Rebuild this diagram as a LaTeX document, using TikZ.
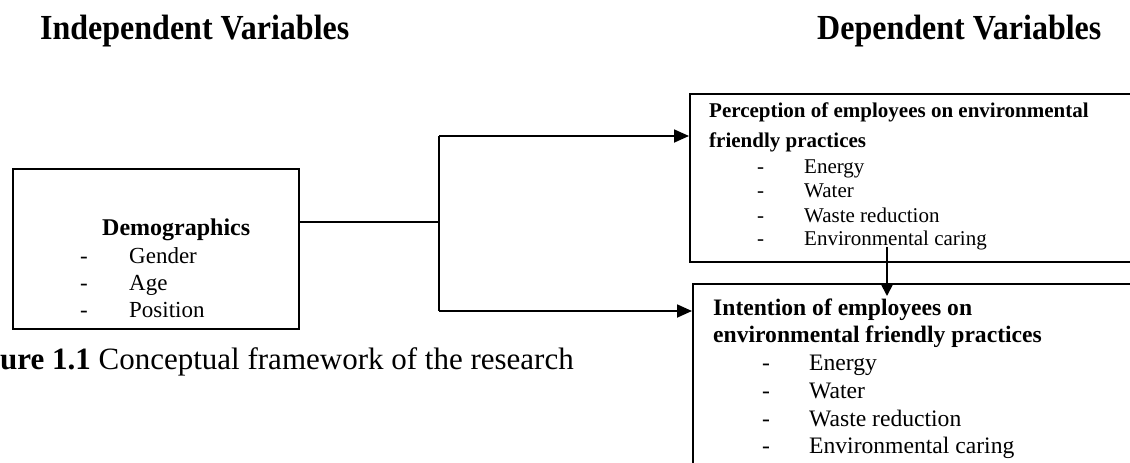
\documentclass[tikz,border=0pt]{standalone}
\usepackage{fontspec}
\setmainfont{Liberation Serif}
\usetikzlibrary{arrows.meta}
\begin{document}
\begin{tikzpicture}[x=1pt,y=-1pt,
  box/.style={draw,line width=1.8pt,inner sep=0pt,anchor=north west},
  txt/.style={inner sep=0pt,anchor=base west},
  conn/.style={line width=1.8pt},
  arr/.style={line width=1.8pt,-{Triangle[length=15pt,width=13pt]}},
  varr/.style={line width=1.8pt,-{Triangle[length=12pt,width=12pt]}},
  head/.style={txt,font=\fontsize{32}{38}\selectfont\bfseries},
  demotitle/.style={txt,font=\fontsize{24}{28}\selectfont\bfseries},
  demoitem/.style={txt,font=\fontsize{23}{27}\selectfont},
  ptitle/.style={txt,font=\fontsize{21}{25}\selectfont\bfseries},
  pitem/.style={txt,font=\fontsize{21}{25}\selectfont},
  ititle/.style={txt,font=\fontsize{23.6}{28}\selectfont\bfseries},
  iitem/.style={txt,font=\fontsize{23.6}{28}\selectfont}]
\useasboundingbox (0,0) rectangle (1130,463);
\clip (0,0) rectangle (1130,463);
% headings
\node[head] (hind) at (40,39) {\scalebox{1}[1.1]{Independent Variables}};
\node[head] (hdep) at (817,39) {\scalebox{1}[1.1]{Dependent Variables}};
% boxes
\node[box,minimum width=460pt,minimum height=160pt,minimum width=286pt] (demo) at (12,168) {};
\node[box,minimum width=460pt,minimum height=168pt] (perc) at (689,93) {};
\node[box,minimum width=460pt,minimum height=200pt] (intent) at (692,283) {};
% demographics text
\node[demotitle] (dt) at (102,235) {Demographics};
\node[demoitem] (dd1) at (80,263) {-};
\node[demoitem] (di1) at (129,263) {Gender};
\node[demoitem] (dd2) at (80,290) {-};
\node[demoitem] (di2) at (129,290) {Age};
\node[demoitem] (dd3) at (80,317) {-};
\node[demoitem] (di3) at (129,317) {Position};
% perception text
\node[ptitle] (pt1) at (709,117) {Perception of employees on environmental};
\node[ptitle] (pt2) at (709,147) {friendly practices};
\node[pitem] (pd1) at (757,173) {-};
\node[pitem] (pi1) at (804,173) {Energy};
\node[pitem] (pd2) at (757,197) {-};
\node[pitem] (pi2) at (804,197) {Water};
\node[pitem] (pd3) at (757,222) {-};
\node[pitem] (pi3) at (804,222) {Waste reduction};
\node[pitem] (pd4) at (757,245) {-};
\node[pitem] (pi4) at (804,245) {Environmental caring};
% intention text
\node[ititle] (it1) at (713,315) {Intention of employees on};
\node[ititle] (it2) at (713,342) {environmental friendly practices};
\node[iitem] (id1) at (762,370) {-};
\node[iitem] (ii1) at (809,370) {Energy};
\node[iitem] (id2) at (762,398) {-};
\node[iitem] (ii2) at (809,398) {Water};
\node[iitem] (id3) at (762,426) {-};
\node[iitem] (ii3) at (809,426) {Waste reduction};
\node[iitem] (id4) at (762,453) {-};
\node[iitem] (ii4) at (809,453) {Environmental caring};
% caption
\node[txt,font=\fontsize{31}{36}\selectfont] (cap) at (0,369) {\textbf{ure 1.1} Conceptual framework of the research};
% connectors
\coordinate (j) at (439,222);
\coordinate (jt) at (439,136);
\coordinate (jb) at (439,311);
\draw[conn] (demo.east |- j) -- (j);
\draw[conn] (jt) -- (jb);
\draw[arr] (jt) -- (jt -| perc.west);
\draw[arr] (jb) -- (jb -| intent.west);
\coordinate (vs) at (887,247);
\coordinate (ve) at (887,296);
\draw[varr] (vs) -- (ve);
\end{tikzpicture}
\end{document}
